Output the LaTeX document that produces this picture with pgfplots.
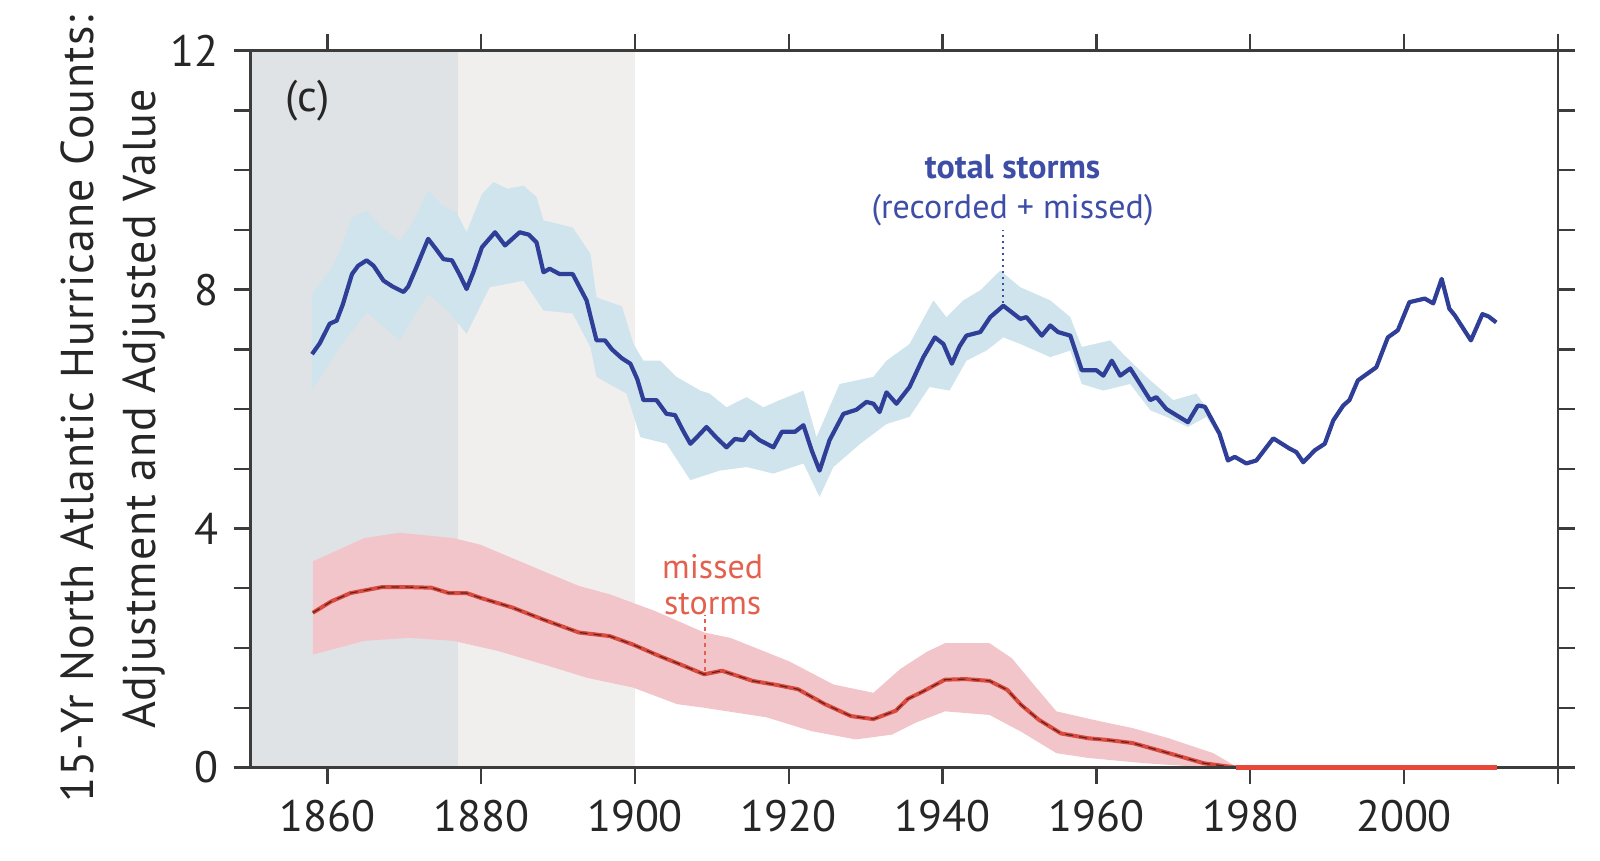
\documentclass[border=0pt]{standalone}
\usepackage{fontspec}
\setmainfont{PT Sans}
\usepackage{pgfplots}
\pgfplotsset{compat=1.18}
\usepgfplotslibrary{fillbetween}
\definecolor{shadeA}{HTML}{DFE3E6}
\definecolor{shadeB}{HTML}{F0EFEE}
\definecolor{bandblue}{HTML}{CFE4ED}
\definecolor{lineblue}{HTML}{2F3E97}
\definecolor{bandred}{HTML}{F2C5CA}
\definecolor{linered}{HTML}{DA4A3E}
\definecolor{zerored}{HTML}{E8473A}
\definecolor{txtblue}{HTML}{3E4EA6}
\definecolor{txtred}{HTML}{E4604E}
\definecolor{axiscol}{HTML}{3C3C3C}
\begin{document}
\begin{tikzpicture}
\begin{axis}[
  scale only axis, width=653.65pt, height=358.4pt,
  xmin=1850, xmax=2020, ymin=0, ymax=12,
  xtick={1860,1880,1900,1920,1940,1960,1980,2000,2020},
  xticklabels={1860,1880,1900,1920,1940,1960,1980,2000,{}},
  ytick={0,1,2,3,4,5,6,7,8,9,10,11,12},
  yticklabels={0,,,,4,,,,8,,,,12},
  tick align=outside, tick pos=both, xticklabel pos=lower, yticklabel pos=left,
  major tick length=8.5pt,
  tick style={axiscol, line width=1.2pt},
  axis line style={axiscol, line width=1.2pt},
  tick label style={font=\fontsize{22}{26}\selectfont, text=black!85},
  xticklabel style={yshift=-4.5pt},
  yticklabel style={xshift=-4pt},
  /pgf/number format/assume math mode=true,
  set layers=axis on top,
  ylabel={15-Yr North Atlantic Hurricane Counts:\\Adjustment and Adjusted Value},
  ylabel style={align=center, font=\fontsize{23}{31}\selectfont\addfontfeatures{LetterSpace=2.2}, text=black!85,
    at={(axis description cs:-0.1048,0.5)}, anchor=center},
]
% period shading
\addplot[on layer=axis background, fill=shadeA, draw=none] coordinates {(1850,0) (1877,0) (1877,12) (1850,12)} -- cycle;
\addplot[on layer=axis background, fill=shadeB, draw=none] coordinates {(1877,0) (1900,0) (1900,12) (1877,12)} -- cycle;

% blue uncertainty band
\addplot[name path=bu, draw=none, forget plot] coordinates {
(1858.0,7.93) (1860.3,8.32) (1861.5,8.6) (1863.2,9.21) (1865.1,9.32) (1867.0,9.05)
(1869.4,8.82) (1871.0,9.1) (1873.1,9.66) (1875.0,9.4) (1876.8,9.29) (1878.1,8.96)
(1880.1,9.6) (1881.6,9.8) (1883.4,9.69) (1885.5,9.74) (1887.2,9.55) (1888.1,9.16)
(1891.9,9.04) (1894.2,8.6) (1895.0,7.87) (1898.3,7.72) (1899.8,7.09) (1901.1,6.81)
(1903.3,6.81) (1905.4,6.54) (1908.5,6.31) (1909.7,6.26) (1911.9,6.03) (1914.5,6.20)
(1916.7,6.03) (1918.8,6.15) (1921.9,6.31) (1923.6,5.53) (1926.6,6.42) (1931.0,6.54)
(1932.7,6.81) (1935.7,7.09) (1938.8,7.82) (1940.5,7.54) (1942.7,7.82) (1944.9,7.99)
(1947.5,8.32) (1950.1,8.04) (1954.0,7.82) (1956.6,7.54) (1958.1,7.04) (1961.8,7.15)
(1963.5,6.92) (1967.0,6.48) (1970.0,6.15) (1973.0,6.26) (1975.1,5.87) (1976.5,5.45)
(1977.5,5.17)};
\addplot[name path=bl, draw=none, forget plot] coordinates {
(1858.0,6.31) (1861.6,7.04) (1865.1,7.62) (1869.4,7.15) (1873.1,7.93) (1876.0,7.6)
(1878.1,7.26) (1881.1,8.04) (1885.5,8.15) (1888.1,7.65) (1891.9,7.60) (1894.2,7.04)
(1895.0,6.54) (1898.9,6.26) (1900.7,5.53) (1904.1,5.42) (1907.2,4.81) (1911.0,4.97)
(1914.5,5.03) (1918.0,4.92) (1921.9,5.09) (1924.0,4.53) (1925.8,5.03) (1929.3,5.42)
(1932.7,5.75) (1935.7,5.87) (1938.3,6.37) (1940.9,6.31) (1943.1,6.81) (1945.7,6.98)
(1947.9,7.20) (1950.1,7.09) (1954.0,6.87) (1956.6,6.98) (1958.1,6.42) (1960.9,6.31)
(1964.4,6.42) (1967.0,5.98) (1969.1,5.87) (1971.9,5.70) (1974.3,5.87) (1976.0,5.53)
(1977.5,5.15)};
\addplot[fill=bandblue, draw=none] fill between[of=bu and bl];

% red uncertainty band
\addplot[name path=ru, draw=none, forget plot] coordinates {
(1858.1,3.45) (1864.8,3.84) (1869.4,3.93) (1876.4,3.84) (1879.9,3.73) (1888.0,3.29)
(1892.7,3.04) (1896.7,2.90) (1902.6,2.62) (1909.0,2.26) (1912.4,2.17) (1920.0,1.78)
(1925.8,1.39) (1931.0,1.25) (1934.5,1.65) (1938.0,1.94) (1940.3,2.08) (1946.1,2.08)
(1949.0,1.83) (1951.9,1.38) (1954.8,0.94) (1960.6,0.77) (1964.7,0.66) (1969.4,0.49)
(1975.2,0.24) (1978.1,0.02)};
\addplot[name path=rl, draw=none, forget plot] coordinates {
(1858.1,1.89) (1864.8,2.12) (1870.6,2.17) (1876.4,2.12) (1882.2,1.95) (1888.0,1.73)
(1893.8,1.50) (1899.7,1.34) (1905.5,1.06) (1909.0,1.00) (1917.1,0.84) (1922.9,0.61)
(1928.7,0.47) (1933.4,0.55) (1936.5,0.75) (1940.3,0.94) (1946.1,0.88) (1950.2,0.60)
(1954.8,0.24) (1958.9,0.16) (1966.4,0.07) (1972.3,0.02) (1978.1,0.00)};
\addplot[fill=bandred, draw=none] fill between[of=ru and rl];

% total storms (recorded + missed)
\addplot[lineblue, line width=2.1pt, line join=round] coordinates {
(1858.0,6.92) (1859.0,7.10) (1860.3,7.43) (1861.2,7.48) (1862.0,7.75) (1863.2,8.26)
(1864.0,8.40) (1865.1,8.49) (1866.0,8.40) (1867.3,8.15) (1868.5,8.05) (1869.9,7.96)
(1870.5,8.05) (1871.4,8.32) (1873.1,8.85) (1874.0,8.70) (1875.1,8.51) (1876.2,8.49)
(1877.2,8.25) (1878.1,8.01) (1879.0,8.30) (1880.1,8.71) (1881.8,8.96) (1883.1,8.74)
(1885.0,8.96) (1886.2,8.92) (1887.2,8.79) (1888.1,8.29) (1888.9,8.35) (1890.2,8.26)
(1891.9,8.26) (1893.7,7.82) (1895.0,7.15) (1896.1,7.15) (1897.0,7.00) (1898.3,6.85)
(1899.4,6.76) (1900.3,6.50) (1901.1,6.15) (1902.8,6.15) (1904.1,5.92) (1905.2,5.90)
(1906.2,5.65) (1907.2,5.42) (1908.2,5.55) (1909.3,5.70) (1910.6,5.52) (1911.9,5.36)
(1913.0,5.50) (1914.1,5.48) (1914.9,5.62) (1916.2,5.48) (1918.0,5.36) (1919.1,5.62)
(1920.8,5.62) (1921.9,5.73) (1923.0,5.30) (1924.0,4.97) (1925.3,5.48) (1927.1,5.92)
(1928.8,5.99) (1930.1,6.12) (1931.0,6.09) (1931.8,5.95) (1932.7,6.28) (1934.0,6.09)
(1935.7,6.37) (1937.5,6.87) (1939.0,7.20) (1940.1,7.09) (1941.2,6.76) (1942.2,7.05)
(1943.1,7.23) (1944.9,7.29) (1946.2,7.54) (1947.9,7.73) (1949.0,7.62) (1950.1,7.51)
(1950.9,7.54) (1952.9,7.23) (1954.0,7.40) (1955.0,7.29) (1956.6,7.23) (1958.1,6.65)
(1960.0,6.65) (1960.9,6.56) (1962.0,6.81) (1963.1,6.56) (1964.4,6.68) (1967.0,6.15)
(1967.8,6.20) (1969.1,6.00) (1971.9,5.78) (1973.2,6.06) (1974.1,6.04) (1976.0,5.59)
(1977.1,5.14) (1978.0,5.20) (1979.5,5.09) (1980.8,5.14) (1983.0,5.51) (1985.1,5.34)
(1986.0,5.28) (1986.9,5.11) (1988.4,5.31) (1989.7,5.42) (1990.8,5.81) (1992.1,6.06)
(1992.9,6.15) (1994.0,6.48) (1996.4,6.70) (1997.9,7.20) (1999.2,7.32) (2000.7,7.79)
(2002.7,7.85) (2003.8,7.77) (2004.9,8.18) (2005.9,7.68) (2006.6,7.57) (2008.7,7.15)
(2010.2,7.59) (2011.0,7.55) (2012.0,7.45)};

% missed storms
\addplot[linered, line width=2pt, line join=round] coordinates {
(1858.1,2.59) (1860.5,2.78) (1863.0,2.92) (1867.1,3.02) (1870.5,3.02) (1873.5,3.01)
(1875.8,2.92) (1878.1,2.92) (1879.9,2.84) (1884.0,2.68) (1888.0,2.48) (1892.7,2.26)
(1896.7,2.20) (1899.7,2.06) (1903.1,1.87) (1906.0,1.72) (1909.0,1.56) (1911.3,1.62)
(1915.3,1.45) (1918.5,1.38) (1921.2,1.31) (1924.7,1.06) (1928.1,0.86) (1931.0,0.81)
(1933.9,0.95) (1935.5,1.15) (1937.4,1.27) (1940.3,1.47) (1943.0,1.48) (1946.1,1.45)
(1948.4,1.30) (1950.2,1.05) (1952.5,0.80) (1955.4,0.57) (1958.9,0.49) (1961.5,0.46)
(1964.7,0.41) (1969.4,0.24) (1974.0,0.07) (1978.1,0.00)};
\addplot[black, opacity=0.55, line width=0.6pt, dash pattern=on 4pt off 3pt] coordinates {
(1858.1,2.59) (1860.5,2.78) (1863.0,2.92) (1867.1,3.02) (1870.5,3.02) (1873.5,3.01)
(1875.8,2.92) (1878.1,2.92) (1879.9,2.84) (1884.0,2.68) (1888.0,2.48) (1892.7,2.26)
(1896.7,2.20) (1899.7,2.06) (1903.1,1.87) (1906.0,1.72) (1909.0,1.56) (1911.3,1.62)
(1915.3,1.45) (1918.5,1.38) (1921.2,1.31) (1924.7,1.06) (1928.1,0.86) (1931.0,0.81)
(1933.9,0.95) (1935.5,1.15) (1937.4,1.27) (1940.3,1.47) (1943.0,1.48) (1946.1,1.45)
(1948.4,1.30) (1950.2,1.05) (1952.5,0.80) (1955.4,0.57) (1958.9,0.49) (1961.5,0.46)
(1964.7,0.41) (1969.4,0.24) (1974.0,0.07) (1978.1,0.00)};
\addplot[on layer=axis foreground, zerored, line width=2.2pt] coordinates {(1978.1,0) (2012.1,0)};

% annotations
\node[font=\fontsize{22}{26}\selectfont, text=black!85] at (axis cs:1857.4,11.16) {(c)};
\node[font=\fontsize{17}{20}\selectfont\bfseries, text=txtblue] at (axis cs:1949.1,10.05) {total storms};
\node[font=\fontsize{17}{20}\selectfont, text=txtblue] at (axis cs:1949.1,9.33) {(recorded + missed)};
\draw[txtblue, line width=1pt, dotted] (axis cs:1947.9,7.77) -- (axis cs:1947.9,9.0);
\node[font=\fontsize{17}{18}\selectfont, text=txtred, align=center] at (axis cs:1910.1,3.06) {missed\\storms};
\draw[txtred, line width=0.9pt, dash pattern=on 2pt off 2pt] (axis cs:1909.1,1.62) -- (axis cs:1909.1,2.56);
\end{axis}
\pgfresetboundingbox
\useasboundingbox (-125.25pt,-46.75pt) rectangle (674.75pt,383.75pt);
\end{tikzpicture}
\end{document}
